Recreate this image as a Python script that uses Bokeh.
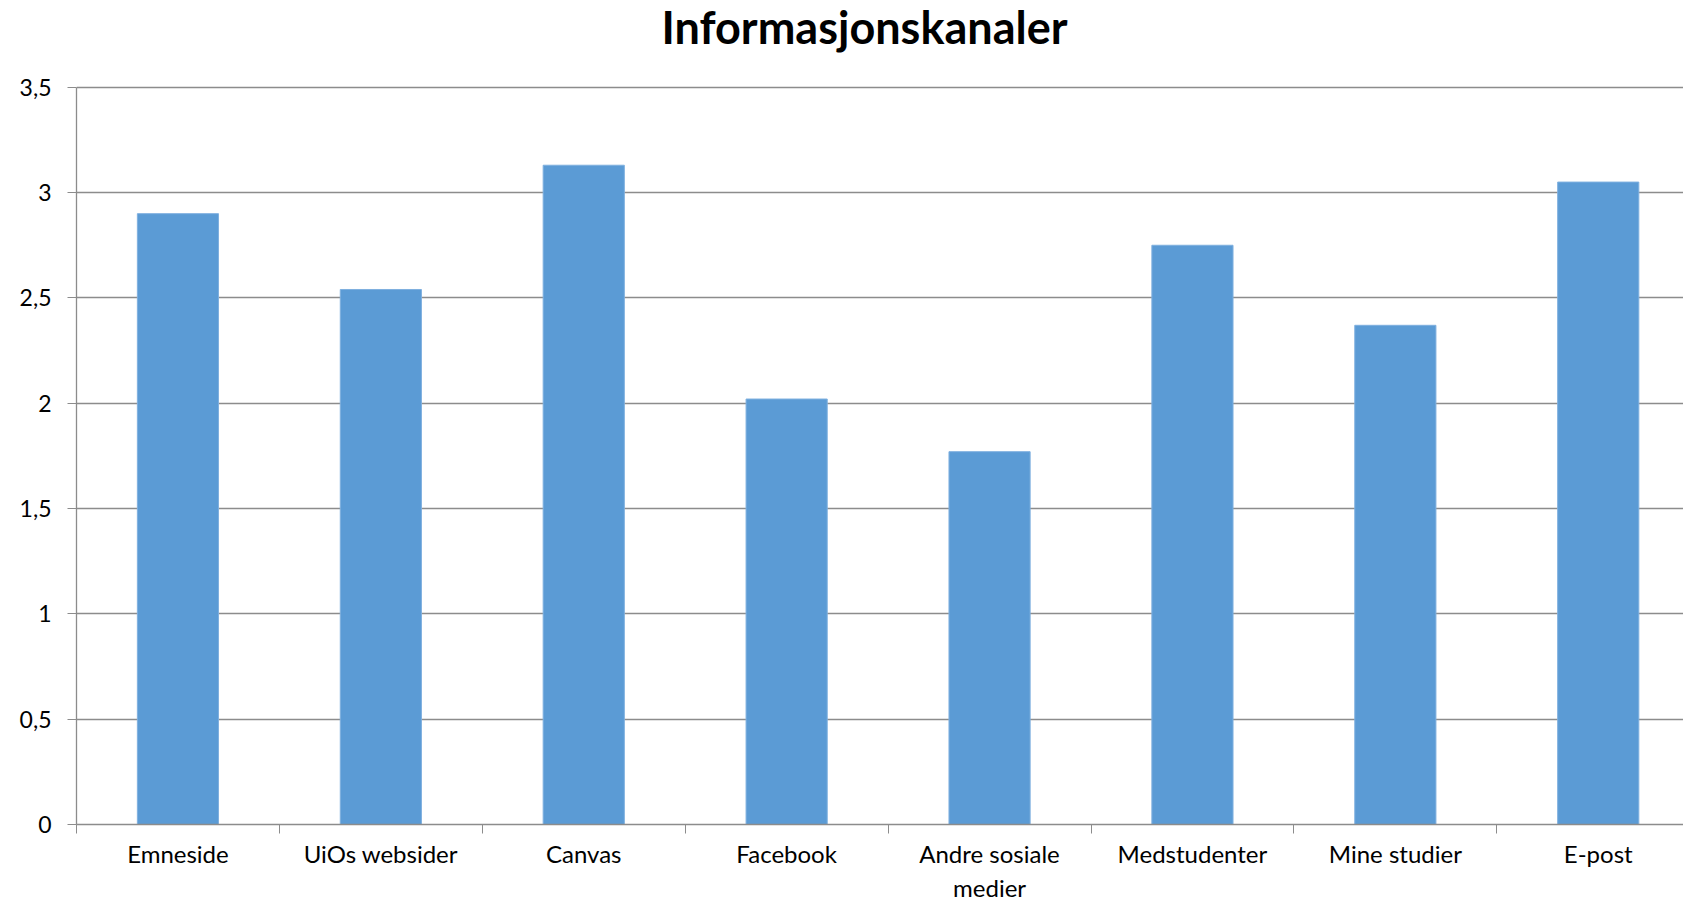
from bokeh.plotting import figure
from bokeh.models import Range1d, FixedTicker, ColumnDataSource, Label
from bokeh.embed import file_html
from bokeh.resources import INLINE

# ---- data ----
categories = ["Emneside", "UiOs websider", "Canvas", "Facebook",
              "Andre sosiale\nmedier", "Medstudenter", "Mine studier", "E-post"]
values = [2.90, 2.54, 3.13, 2.02, 1.77, 2.75, 2.37, 3.05]
y_ticks = [0, 0.5, 1, 1.5, 2, 2.5, 3, 3.5]
y_tick_labels = ["0", "0,5", "1", "1,5", "2", "2,5", "3", "3,5"]
title_text = "Informasjonskanaler"

FONT = "Lato"
GRID = "#8c8c8c"

W, H = 1683, 905
LEFT, BOTTOM = 76, 79
AXIS_TOP = 87           # pixel row of the 3,5 gridline
TITLE_Y, TITLE_X = 27, 864
cat_px = 202.9
x_end = (W - LEFT) / cat_px
y_max = 3.5
frame_h = H - BOTTOM
per_px = y_max / (frame_h - AXIS_TOP)
y_end = y_max + AXIS_TOP * per_px

centers = [i + 0.5 for i in range(len(categories))]
bounds = [float(i) for i in range(len(categories) + 1)]

src = ColumnDataSource(dict(x=centers, top=values))

p = figure(width=W, height=H, output_backend="svg", toolbar_location=None,
           x_range=Range1d(0, x_end), y_range=Range1d(0, y_end),
           min_border_left=LEFT, min_border_right=0, min_border_top=0,
           min_border_bottom=BOTTOM)
p.outline_line_color = None

p.vbar(x="x", top="top", width=0.40, bottom=0, source=src,
       fill_color="#5B9BD5", line_color="#7fb0df", line_width=1)

# title (drawn inside the frame area above the value axis)
p.add_layout(Label(x=(TITLE_X - LEFT) / cat_px,
                   y=y_max + (AXIS_TOP - TITLE_Y) * per_px,
                   text=title_text, text_align="center", text_baseline="middle",
                   text_font=FONT, text_font_style="bold",
                   text_font_size="45px", text_color="#000000"))

# x axis: tick marks between categories, labels at category centres
xa = p.xaxis[0]
xa.ticker = FixedTicker(ticks=centers, minor_ticks=bounds)
xa.major_label_overrides = {c: lab for c, lab in zip(centers, categories)}
xa.major_label_text_font = FONT
xa.major_label_text_font_size = "24px"
xa.major_label_text_color = "#000000"
xa.major_label_standoff = 5
xa.major_tick_line_color = None
xa.major_tick_out = 0
xa.major_tick_in = 0
xa.minor_tick_line_color = GRID
xa.minor_tick_out = 9
xa.minor_tick_in = 0
xa.axis_line_color = GRID
xa.axis_line_width = 1.3

# y axis
ya = p.yaxis[0]
ya.ticker = FixedTicker(ticks=y_ticks)
ya.bounds = (0, y_max)
ya.major_label_overrides = {t: lab for t, lab in zip(y_ticks, y_tick_labels)}
ya.major_tick_line_color = GRID
ya.major_tick_out = 9
ya.major_tick_in = 0
ya.minor_tick_line_color = None
ya.axis_line_color = GRID
ya.axis_line_width = 1.3
ya.major_label_text_font = FONT
ya.major_label_text_font_size = "23px"
ya.major_label_text_color = "#000000"
ya.major_label_standoff = 16

p.xgrid.grid_line_color = None
p.ygrid.ticker = FixedTicker(ticks=y_ticks)
p.ygrid.grid_line_color = GRID
p.ygrid.grid_line_width = 1.3

open("out.html", "w").write(file_html(p, INLINE))
